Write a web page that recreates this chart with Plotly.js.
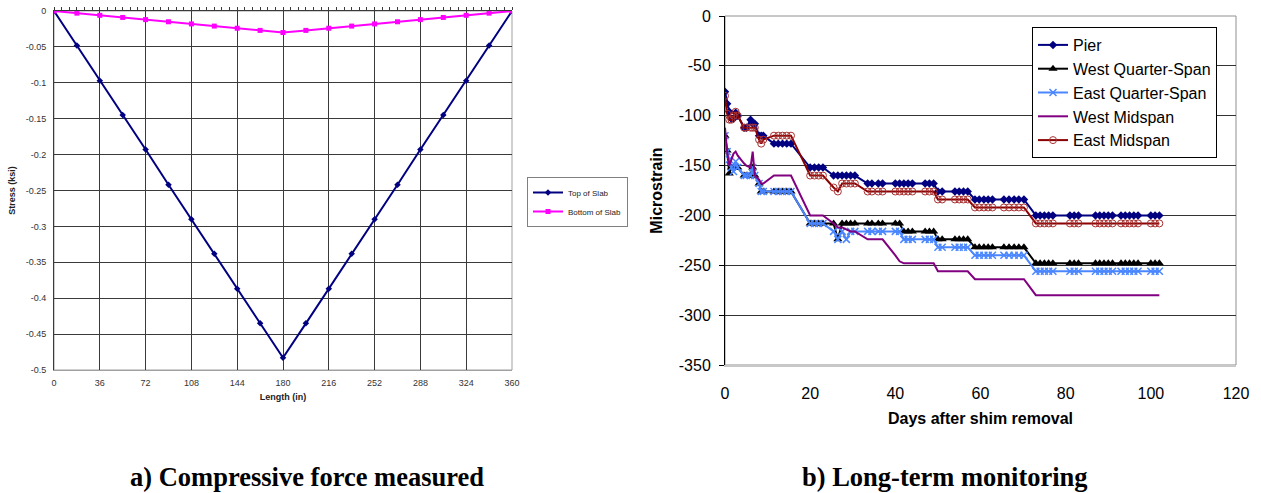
<!DOCTYPE html>
<html>
<head>
<meta charset="utf-8">
<script src="https://cdn.plot.ly/plotly-3.0.1.min.js"></script>
<style>
html,body{margin:0;padding:0;background:#fff;}
#chart{width:1261px;height:493px;}
</style>
</head>
<body>
<div id="chart"></div>
<script>
// ---------- Chart a) Compressive force measured ----------
const lengthIn = [0,18,36,54,72,90,108,126,144,162,180,198,216,234,252,270,288,306,324,342,360];
const topOfSlab = [0,-0.048,-0.097,-0.145,-0.193,-0.242,-0.290,-0.338,-0.387,-0.435,-0.483,-0.435,-0.387,-0.338,-0.290,-0.242,-0.193,-0.145,-0.097,-0.048,0];
const bottomOfSlab = [0,-0.003,-0.006,-0.009,-0.012,-0.015,-0.018,-0.021,-0.024,-0.027,-0.030,-0.027,-0.024,-0.021,-0.018,-0.015,-0.012,-0.009,-0.006,-0.003,0];
const lengthTicks = [0,36,72,108,144,180,216,252,288,324,360];
const lengthTickText = ['0','36','72','108','144','180','216','252','288','324','360'];
const stressTicks = [0,-0.05,-0.1,-0.15,-0.2,-0.25,-0.3,-0.35,-0.4,-0.45,-0.5];
const stressTickText = ['0','-0.05','-0.1','-0.15','-0.2','-0.25','-0.3','-0.35','-0.4','-0.45','-0.5'];

// ---------- Chart b) Long-term monitoring ----------
const days = [0,0.5,1,1.5,2,2.5,3,4.5,5,6,6.5,7,8,8.5,9,11.5,12.5,13.5,14.5,15.5,
  20,21,22,23,25.5,26.5,27.5,28.5,29.5,30.5,33.5,34.5,36,37,40,41,42,43,44,47,48,49,50,51,
  54,55,56,57,58.7,59.7,60.8,61.8,62.8,65.5,66.7,67.9,69,70.2,73,74,75,76,77,81,82,83,
  87,88,89,90,91,93,94,95,96,97,100,101,102];
const pier = [-76,-88,-96,-103,-103,-97,-100,-112,-112,-104,-108,-108,-120,-120,-120,-128,-128,-128,-128,-128,
  -152,-152,-152,-152,-160,-160,-160,-160,-160,-160,-168,-168,-168,-168,-168,-168,-168,-168,-168,-168,-168,-168,-176,-176,
  -176,-176,-176,-176,-184,-184,-184,-184,-184,-184,-184,-184,-184,-184,-200,-200,-200,-200,-200,-200,-200,-200,
  -200,-200,-200,-200,-200,-200,-200,-200,-200,-200,-200,-200,-200];
const westQuarter = [-120,-135,-158,-152,-152,-152,-152,-160,-160,-160,-152,-160,-168,-176,-176,-176,-176,-176,-176,-176,
  -208,-208,-208,-208,-208,-224,-208,-208,-208,-208,-208,-208,-208,-208,-208,-208,-216,-216,-216,-216,-216,-216,-224,-224,
  -224,-224,-224,-224,-232,-232,-232,-232,-232,-232,-232,-232,-232,-232,-248,-248,-248,-248,-248,-248,-248,-248,
  -248,-248,-248,-248,-248,-248,-248,-248,-248,-248,-248,-248,-248];
const eastQuarter = [-120,-136,-144,-152,-156,-146,-152,-160,-160,-160,-152,-160,-168,-176,-176,-176,-176,-176,-176,-176,
  -208,-208,-208,-208,-216,-224,-216,-224,-216,-216,-216,-216,-216,-216,-216,-216,-224,-224,-224,-224,-224,-224,-232,-232,
  -232,-232,-232,-232,-240,-240,-240,-240,-240,-240,-240,-240,-240,-240,-256,-256,-256,-256,-256,-256,-256,-256,
  -256,-256,-256,-256,-256,-256,-256,-256,-256,-256,-256,-256,-256];
const westMid = [-112,-136,-150,-144,-138,-136,-140,-148,-150,-152,-136,-160,-164,-168,-168,-160,-160,-160,-160,-160,
  -200,-200,-200,-200,-208,-212,-212,-214,-216,-216,-224,-224,-224,-224,-240,-246,-248,-248,-248,-248,-248,-248,-256,-256,
  -256,-256,-256,-256,-264,-264,-264,-264,-264,-264,-264,-264,-264,-264,-280,-280,-280,-280,-280,-280,-280,-280,
  -280,-280,-280,-280,-280,-280,-280,-280,-280,-280,-280,-280,-280];
const eastMid = [-80,-98,-104,-104,-100,-96,-100,-112,-112,-112,-112,-112,-124,-128,-124,-120,-120,-120,-120,-120,
  -160,-160,-160,-160,-172,-176,-168,-168,-168,-168,-176,-176,-176,-176,-176,-176,-176,-176,-176,-176,-176,-176,-184,-184,
  -184,-184,-184,-184,-192,-192,-192,-192,-192,-192,-192,-192,-192,-192,-208,-208,-208,-208,-208,-208,-208,-208,
  -208,-208,-208,-208,-208,-208,-208,-208,-208,-208,-208,-208,-208];
const dayTicks = [0,20,40,60,80,100,120];
const dayTickText = ['0','20','40','60','80','100','120'];
const strainTicks = [0,-50,-100,-150,-200,-250,-300,-350];
const strainTickText = ['0','-50','-100','-150','-200','-250','-300','-350'];

const SANS = 'Liberation Sans, Arial, sans-serif';
const SERIF = 'Liberation Serif, Times New Roman, serif';

const traces = [
  {x: lengthIn, y: topOfSlab, name: 'Top of Slab', type: 'scatter', mode: 'lines+markers',
   xaxis: 'x', yaxis: 'y', legend: 'legend',
   line: {color: '#000080', width: 2}, marker: {symbol: 'diamond', size: 5, color: '#000080'}},
  {x: lengthIn, y: bottomOfSlab, name: 'Bottom of Slab', type: 'scatter', mode: 'lines+markers',
   xaxis: 'x', yaxis: 'y', legend: 'legend',
   line: {color: '#FF00FF', width: 2}, marker: {symbol: 'square', size: 5, color: '#FF00FF'}},
  {x: [], y: [], xaxis: 'x3', yaxis: 'y', showlegend: false, type: 'scatter'},
  {x: days, y: pier, name: 'Pier', type: 'scatter', mode: 'lines+markers',
   xaxis: 'x2', yaxis: 'y2', legend: 'legend2',
   line: {color: '#000080', width: 2}, marker: {symbol: 'diamond', size: 6.5, color: '#000080'}},
  {x: days, y: westQuarter, name: 'West Quarter-Span', type: 'scatter', mode: 'lines+markers',
   xaxis: 'x2', yaxis: 'y2', legend: 'legend2',
   line: {color: '#000000', width: 2}, marker: {symbol: 'triangle-up', size: 8, color: '#000000'}},
  {x: days, y: eastQuarter, name: 'East Quarter-Span', type: 'scatter', mode: 'lines+markers',
   xaxis: 'x2', yaxis: 'y2', legend: 'legend2',
   line: {color: '#4A86FF', width: 2}, marker: {symbol: 'x-thin', size: 7, line: {color: '#4A86FF', width: 1.5}, color: '#4A86FF'}},
  {x: days, y: westMid, name: 'West Midspan', type: 'scatter', mode: 'lines',
   xaxis: 'x2', yaxis: 'y2', legend: 'legend2',
   line: {color: '#800080', width: 2}},
  {x: days, y: eastMid, name: 'East Midspan', type: 'scatter', mode: 'lines+markers',
   xaxis: 'x2', yaxis: 'y2', legend: 'legend2',
   line: {color: '#8B0000', width: 2}, marker: {symbol: 'circle-open', size: 7, color: '#A83232', line: {width: 1}}}
];

const layout = {
  width: 1261, height: 493,
  margin: {l: 0, r: 0, t: 0, b: 0},
  paper_bgcolor: '#fff', plot_bgcolor: '#fff',
  showlegend: true,
  font: {family: SANS, color: '#000'},
  xaxis: {
    domain: [54/1261, 512/1261], anchor: 'y', range: [0, 360],
    tickmode: 'array', tickvals: lengthTicks, ticktext: lengthTickText,
    showgrid: true, gridcolor: '#3a3a3a', gridwidth: 1, zeroline: false,
    showline: true, linecolor: '#a0a0a0', linewidth: 1, ticks: '',
    ticklabelstandoff: 4,
    tickfont: {family: SANS, size: 9, color: '#333'},
    title: {text: 'Length (in)', font: {family: SANS, size: 9, color: '#222', weight: 'bold'}, standoff: 6},
    fixedrange: true
  },
  xaxis3: {
    overlaying: 'x', anchor: 'y', side: 'top', range: [0, 360],
    showline: true, linecolor: '#3a3a3a', linewidth: 1,
    ticks: 'outside', ticklen: 3, tickcolor: '#3a3a3a', tickmode: 'linear', tick0: 0, dtick: 6,
    showticklabels: false, showgrid: false, zeroline: false, fixedrange: true
  },
  yaxis: {
    domain: [1 - 370/493, 1 - 11/493], anchor: 'x', range: [-0.5, 0],
    tickmode: 'array', tickvals: stressTicks, ticktext: stressTickText,
    showgrid: true, gridcolor: '#3a3a3a', gridwidth: 1, zeroline: false,
    showline: true, linecolor: '#3a3a3a', linewidth: 1, ticks: '',
    ticklabelstandoff: 5,
    tickfont: {family: SANS, size: 9, color: '#333'},
    title: {text: 'Stress (ksi)', font: {family: SANS, size: 9, color: '#222', weight: 'bold'}, standoff: 8},
    fixedrange: true
  },
  xaxis2: {
    domain: [725/1261, 1236/1261], anchor: 'y2', range: [0, 120],
    tickmode: 'array', tickvals: dayTicks, ticktext: dayTickText,
    showgrid: false, zeroline: false,
    showline: true, linecolor: '#c8c8c8', linewidth: 2, ticks: '',
    ticklabelstandoff: 13,
    tickfont: {family: SANS, size: 16, color: '#000'},
    title: {text: 'Days after shim removal', font: {family: SANS, size: 16, color: '#000', weight: 'bold'}, standoff: 12},
    fixedrange: true
  },
  yaxis2: {
    domain: [1 - 365/493, 1 - 16/493], anchor: 'x2', range: [-350, 0],
    tickmode: 'array', tickvals: strainTicks, ticktext: strainTickText,
    showgrid: true, gridcolor: '#333', gridwidth: 1, zeroline: false,
    showline: true, linecolor: '#000', linewidth: 1, ticks: 'outside', ticklen: 5, tickcolor: '#000',
    ticklabelstandoff: 5,
    tickfont: {family: SANS, size: 16, color: '#000'},
    title: {text: 'Microstrain', font: {family: SANS, size: 16, color: '#000', weight: 'bold'}, standoff: 12},
    fixedrange: true
  },
  legend: {
    x: 527/1261, y: 1 - 177/493, xanchor: 'left', yanchor: 'top',
    bgcolor: '#fff', bordercolor: '#808080', borderwidth: 1,
    font: {family: SANS, size: 8, color: '#222'}, itemwidth: 30, tracegroupgap: 0
  },
  legend2: {
    x: 1032/1261, y: 1 - 27/493, xanchor: 'left', yanchor: 'top',
    bgcolor: '#fff', bordercolor: '#000', borderwidth: 1,
    font: {family: SANS, size: 16, color: '#000'}, itemwidth: 30, tracegroupgap: 0
  },
  shapes: [
    {type: 'rect', xref: 'x2 domain', yref: 'y2 domain', x0: 0, x1: 1, y0: 0, y1: 1,
     line: {color: '#909090', width: 1}, layer: 'below'},
    {type: 'rect', xref: 'x domain', yref: 'y domain', x0: 0, x1: 1, y0: 0, y1: 1,
     line: {color: '#a0a0a0', width: 1}, layer: 'below'}
  ],
  annotations: [
    {text: 'a) Compressive force measured', xref: 'paper', yref: 'paper', x: 307/1261, y: 1 - 477/493,
     xanchor: 'center', yanchor: 'middle', showarrow: false,
     font: {family: SERIF, size: 26.5, color: '#000', weight: 'bold'}},
    {text: 'b) Long-term monitoring', xref: 'paper', yref: 'paper', x: 945/1261, y: 1 - 477/493,
     xanchor: 'center', yanchor: 'middle', showarrow: false,
     font: {family: SERIF, size: 26.5, color: '#000', weight: 'bold'}}
  ]
};

Plotly.newPlot('chart', traces, layout, {displayModeBar: false, staticPlot: true});
</script>
</body>
</html>
